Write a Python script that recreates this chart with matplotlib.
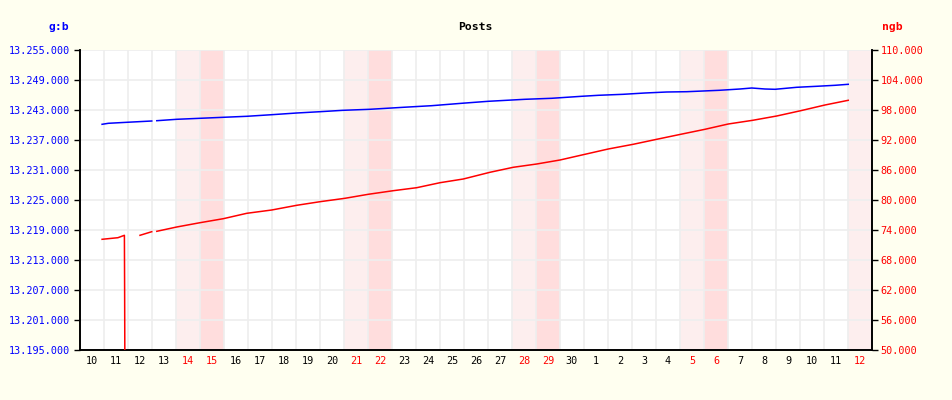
import numpy as np
import matplotlib
matplotlib.use("Agg")
import matplotlib.pyplot as plt
from matplotlib.ticker import FuncFormatter, FixedLocator

# ---- data ----
day_labels = ["10", "11", "12", "13", "14", "15", "16", "17", "18", "19", "20",
              "21", "22", "23", "24", "25", "26", "27", "28", "29", "30",
              "1", "2", "3", "4", "5", "6", "7", "8", "9", "10", "11", "12"]
weekend_idx_sat = [4, 11, 18, 25, 32]
weekend_idx_sun = [5, 12, 19, 26]

# positions in days from start of first day (day "10")
gb_t = [0.92, 1.18, 1.95, 2.99, 3.10, 3.20, 4.03, 5.00, 5.97, 6.95, 7.99, 9.03,
        10.00, 10.97, 12.08, 13.47, 14.65, 15.90, 17.01, 18.54, 19.65, 20.90,
        21.60, 22.64, 23.54, 24.45, 25.28, 26.64, 27.50, 27.99, 28.54, 28.96,
        29.86, 30.69, 31.46, 32.01]
gb_v = [13240140, 13240340, 13240540, 13240800, np.nan, 13240860, 13241140,
        13241340, 13241540, 13241740, 13242060, 13242400, 13242660, 13242940,
        13243140, 13243540, 13243860, 13244340, 13244740, 13245140, 13245340,
        13245740, 13245940, 13246140, 13246400, 13246600, 13246660, 13246940,
        13247200, 13247400, 13247200, 13247140, 13247540, 13247740, 13247940,
        13248140]

ngb_t = [0.92, 1.58, 1.85, 1.86, 1.90, 2.20, 2.50, 2.99, 3.10, 3.20, 4.03, 5.00,
         5.97, 6.95, 7.99, 9.03, 10.00, 11.04, 12.01, 13.05, 14.03, 15.00, 15.97,
         17.08, 18.05, 19.03, 20.00, 21.04, 22.01, 23.05, 24.03, 25.03, 26.04,
         27.01, 28.03, 29.03, 30.03, 31.04, 32.01]
ngb_v = [72140, 72460, 72940, 61400, 0, np.nan, 72940, 73660, np.nan, 73740,
         74600, 75460, 76260, 77340, 78000, 78940, 79660, 80340, 81140, 81860,
         82460, 83460, 84200, 85540, 86540, 87200, 88000, 89140, 90200, 91140,
         92140, 93140, 94140, 95200, 95940, 96800, 97860, 99000, 99940]

gb_ticks = [13195000 + 6000 * i for i in range(11)]
ngb_ticks = [50000 + 6000 * i for i in range(11)]

# ---- figure ----
BG = "#FFFFF0"
fig = plt.figure(figsize=(9.52, 4.0), dpi=100, facecolor=BG)
ax = fig.add_axes([80 / 952, 50 / 400, 792 / 952, 300 / 400])
ax.set_facecolor("white")
ax2 = ax.twinx()

n = len(day_labels)
ax.set_xlim(0, n)
ax.set_ylim(gb_ticks[0], gb_ticks[-1])
ax2.set_ylim(ngb_ticks[0], ngb_ticks[-1])

for i in weekend_idx_sat:
    ax.axvspan(i, i + 1, color="#FDEEEE", lw=0, zorder=0)
for i in weekend_idx_sun:
    ax.axvspan(i, i + 1, color="#FFDDDD", lw=0, zorder=0)

# grid
ax.xaxis.set_minor_locator(FixedLocator(np.arange(0, n + 1)))
ax.xaxis.set_major_locator(FixedLocator(np.arange(n) + 0.5))
ax.set_xticklabels(day_labels)
ax.grid(True, which="minor", axis="x", color="#EEEEEE", lw=1.2, zorder=0.5)
ax.set_yticks(gb_ticks)
ax.grid(True, which="major", axis="y", color="#EEEEEE", lw=1.2, zorder=0.5)
ax.set_axisbelow(True)
ax2.set_yticks(ngb_ticks)

fmt = FuncFormatter(lambda v, p: f"{int(round(v)):,}".replace(",", "."))
ax.yaxis.set_major_formatter(fmt)
ax2.yaxis.set_major_formatter(fmt)

mono = "DejaVu Sans Mono"
FS = 7.3
ax.tick_params(axis="x", which="both", length=0, pad=4, labelsize=FS)
ax.tick_params(axis="y", length=4, width=1, pad=3.5, labelsize=FS, labelcolor="blue")
ax2.tick_params(axis="y", length=4, width=1, pad=2, labelsize=FS, labelcolor="red")
for lab in ax.get_xticklabels() + ax.get_yticklabels() + ax2.get_yticklabels():
    lab.set_fontfamily(mono)
for lab in ax.get_xticklabels():
    lab.set_color("black")
for i in weekend_idx_sat + weekend_idx_sun:
    ax.get_xticklabels()[i].set_color("red")

for a in (ax, ax2):
    a.spines["top"].set_visible(False)
    for s in ("left", "right", "bottom"):
        a.spines[s].set_color("black")
        a.spines[s].set_linewidth(1.2)

ax.plot(gb_t, gb_v, color="blue", lw=1.1, zorder=3)
ax2.plot(ngb_t, ngb_v, color="red", lw=1.1, zorder=3)

fig.text(475 / 952, 1 - 27 / 400, "Posts", ha="center", va="center",
         fontsize=8.2, fontweight="bold", family=mono)
fig.text(59 / 952, 1 - 27 / 400, "g:b", ha="center", va="center",
         fontsize=8.2, fontweight="bold", family=mono, color="blue")
fig.text(892 / 952, 1 - 27 / 400, "ngb", ha="center", va="center",
         fontsize=8.2, fontweight="bold", family=mono, color="red")

fig.savefig("out.png", dpi=100, facecolor=BG)
